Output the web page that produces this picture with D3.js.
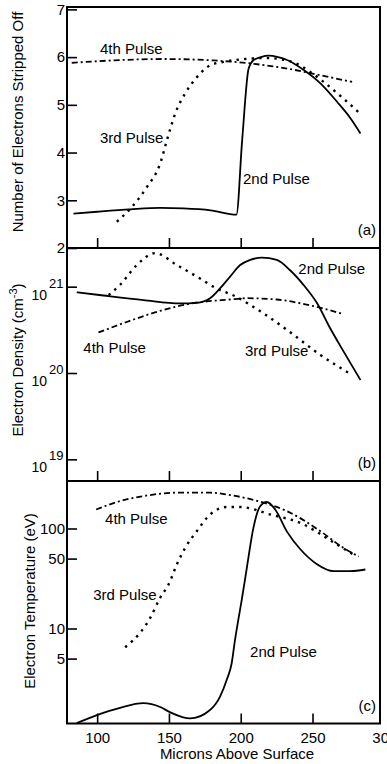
<!DOCTYPE html>
<html lang="en">
<head>
<meta charset="UTF-8" />
<title>Stripping, density and temperature vs height</title>
<script src="https://d3js.org/d3.v7.min.js"></script>
<style>
    body { margin: 0; background: #fff; }
    svg { display: block; font-family: "Liberation Sans", Arial, Helvetica, sans-serif; }
    .frame { fill: none; stroke: #000; stroke-width: 2; }
    .tick line { stroke: #000; stroke-width: 1.6; }
    .curve { fill: none; stroke: #000; }
    .p2 { stroke-width: 1.8; }
    .p3 { stroke-width: 2.4; stroke-dasharray: 2.4 5.2; }
    .p4 { stroke-width: 1.8; stroke-dasharray: 6 3 2 3; }
    text { fill: #000; }
</style>
</head>
<body>
<script>
    // microns above surface
    const xTicks = [100, 150, 200, 250, 300];

    // (a) number of electrons stripped off
    const stripX2 = [83.5, 100, 123, 144, 160, 179, 197, 201, 205.5, 209, 214, 219.5, 226, 232.3, 243.9, 255.5, 267.2, 276.4, 283.4];
    const strip2 = [2.72, 2.76, 2.81, 2.84, 2.83, 2.79, 2.70, 4.26, 5.76, 5.94, 6.00, 6.03, 6.00, 5.94, 5.73, 5.45, 5.06, 4.72, 4.40];
    const stripX3 = [113.7, 124.2, 134.7, 143.9, 148.6, 154.4, 161.3, 169.5, 178.8, 188.1, 203, 218, 235.7, 248.4, 257.7, 271.6, 284.5];
    const strip3 = [2.55, 2.86, 3.28, 3.77, 4.26, 4.82, 5.24, 5.58, 5.83, 5.90, 5.96, 5.98, 5.90, 5.69, 5.48, 5.13, 4.78];
    const stripX4 = [82.3, 110, 147, 181, 209, 232.3, 255.5, 277.6];
    const strip4 = [5.88, 5.93, 5.96, 5.93, 5.86, 5.76, 5.62, 5.48];
    const stripTicks = [2, 3, 4, 5, 6, 7];

    // (b) electron density, cm^-3
    const densX2 = [85.8, 104.4, 132.3, 157.8, 169.4, 178.7, 185.7, 192.6, 199.6, 206.5, 214.7, 225.1, 234.4, 243.7, 253, 262.3, 271.6, 283.4];
    const dens2 = [8.6e20, 7.9e20, 7.0e20, 6.4e20, 6.5e20, 7.35e20, 9.6e20, 1.31e21, 1.78e21, 2.04e21, 2.17e21, 2.04e21, 1.55e21, 1.05e21, 6.5e20, 3.3e20, 1.78e20, 8.3e19];
    const densX3 = [108, 116, 127.6, 140.4, 155.5, 169.4, 183.3, 195, 215.9, 232.2, 255.5, 277.6];
    const dens3 = [8.0e20, 1.05e21, 1.78e21, 2.45e21, 1.78e21, 1.31e21, 9.5e20, 7.9e20, 4.9e20, 3.16e20, 1.62e20, 9.5e19];
    const densX4 = [100.9, 120.6, 143.9, 167.1, 192.6, 204.2, 225.1, 246, 271.6];
    const dens4 = [2.95e20, 3.9e20, 5.25e20, 6.45e20, 7.1e20, 7.35e20, 7.1e20, 6.2e20, 4.8e20];
    const densTicks = [1e19, 1e20, 1e21];
    const densExp = ['19', '20', '21'];

    // (c) electron temperature, eV
    const tempX2 = [85.8, 99.8, 115.9, 132.2, 143.9, 151, 164.7, 178.6, 185.6, 190.2, 193.7, 196, 198.3, 200.7, 204.2, 208.8, 213.4, 218.1, 224, 232.2, 241.5, 253.1, 264.7, 276.3, 286.8];
    const temp2 = [1.13, 1.36, 1.61, 1.79, 1.64, 1.45, 1.26, 1.53, 2.08, 3.05, 4.49, 7.67, 12.2, 19.3, 40, 101, 166, 184, 155, 93, 62, 44, 37.5, 37.5, 38.9];
    const tempX3 = [119.5, 130, 137, 143.9, 149.7, 155.5, 161.3, 169.4, 178.7, 190.3, 199.7, 220.6, 243.8, 257.7, 269.3, 280.9];
    const temp3 = [6.5, 9.1, 12.8, 20.3, 27.5, 43.7, 64, 94, 138, 164, 164, 138, 110, 84, 66, 52.5];
    const tempX4 = [99.3, 116, 132.3, 155.5, 178.7, 192.6, 215.9, 232.2, 255.5, 271.5, 282.2];
    const temp4 = [155, 188, 211, 228, 228, 216, 181, 149, 94, 64, 52.5];
    const tempTicks = [5, 10, 50, 100];

    const width = 387, height = 764;
    const left = 67, right = 380;

    const svg = d3.select('body').append('svg').attr('width', width).attr('height', height);

    const x = d3.scaleLinear().domain([79, 297]).range([left, right]);

    const panels = [
        {
            top: 7, bottom: 248, tag: '(a)',
            y: d3.scaleLinear().domain([2, 7.05]),
            ticks: stripTicks, fmt: d3.format('d'),
            series: [[stripX2, strip2, 'p2'], [stripX3, strip3, 'p3'], [stripX4, strip4, 'p4']],
            notes: [['4th Pulse', 102, 6.17], ['3rd Pulse', 102, 4.32], ['2nd Pulse', 201.6, 3.46]]
        },
        {
            top: 248, bottom: 481, tag: '(b)',
            y: d3.scaleLog().domain([Math.pow(10, 18.749), Math.pow(10, 21.448)]),
            ticks: densTicks, fmt: () => '',
            series: [[densX2, dens2, 'p2'], [densX3, dens3, 'p3'], [densX4, dens4, 'p4']],
            notes: [['2nd Pulse', 240.1, 1.63e21], ['4th Pulse', 90.4, 1.96e20], ['3rd Pulse', 203, 1.8e20]]
        },
        {
            top: 481, bottom: 723.5, tag: '(c)',
            y: d3.scaleLog().domain([Math.pow(10, 0.05), Math.pow(10, 2.475)]),
            ticks: tempTicks, fmt: d3.format('d'),
            series: [[tempX2, temp2, 'p2'], [tempX3, temp3, 'p3'], [tempX4, temp4, 'p4']],
            notes: [['4th Pulse', 105.5, 126], ['3rd Pulse', 97.3, 21.9], ['2nd Pulse', 206.5, 5.94]]
        }
    ];

    panels.forEach((p, i) => {
        const y = p.y.range([p.bottom, p.top]);
        const g = svg.append('g');

        // curves
        p.series.forEach(([xs, vs, cls]) => {
            const line = d3.line()
                .x(d => x(d[0]))
                .y(d => y(d[1]))
                .curve(d3.curveMonotoneX);
            g.append('path').attr('class', 'curve ' + cls).attr('d', line(d3.zip(xs, vs)));
        });

        // left ticks, pointing inside
        const ya = g.append('g')
            .attr('transform', `translate(${left},0)`)
            .call(d3.axisLeft(y).tickValues(p.ticks).tickSize(-10).tickPadding(2).tickFormat(p.fmt));
        ya.select('.domain').remove();
        ya.attr('font-family', null).attr('font-size', 15);

        // powers of ten for density
        if (i === 1) {
            p.ticks.forEach((t, k) => {
                g.append('text').attr('x', 47).attr('y', y(t) + 13)
                    .attr('text-anchor', 'end').attr('font-size', 14).text('10');
                g.append('text').attr('x', 49).attr('y', y(t) + 1)
                    .attr('font-size', 13).text(densExp[k]);
            });
        }

        // bottom ticks, pointing up
        const xa = g.append('g')
            .attr('transform', `translate(0,${p.bottom})`)
            .call(d3.axisBottom(x).tickValues(i === 2 ? xTicks : xTicks.slice(0, 4))
                .tickSize(-10).tickPadding(9).tickFormat(i === 2 ? d3.format('d') : () => ''));
        xa.select('.domain').remove();
        xa.attr('font-family', null).attr('font-size', 15);
        xa.selectAll('.tick').filter(d => d === 300).select('line').remove();

        g.append('rect').attr('class', 'frame')
            .attr('x', left).attr('y', p.top)
            .attr('width', right - left).attr('height', p.bottom - p.top);

        // curve names
        p.notes.forEach(([txt, nx, ny]) => {
            g.append('text').attr('x', x(nx)).attr('y', y(ny)).attr('dy', '0.36em')
                .attr('font-size', 15).text(txt);
        });

        g.append('text').attr('x', 376).attr('y', p.bottom - 13)
            .attr('text-anchor', 'end').attr('font-size', 15).text(p.tag);
    });

    // axis titles
    svg.append('text').attr('transform', 'translate(23,122) rotate(-90)')
        .attr('text-anchor', 'middle').attr('font-size', 15)
        .text('Number of Electrons Stripped Off');

    const dt = svg.append('text').attr('transform', 'translate(23,360) rotate(-90)')
        .attr('text-anchor', 'middle').attr('font-size', 15);
    dt.append('tspan').text('Electron Density (cm');
    dt.append('tspan').attr('dy', -6).attr('font-size', 11).text('-3');
    dt.append('tspan').attr('dy', 6).text(')');

    svg.append('text').attr('transform', 'translate(35,601) rotate(-90)')
        .attr('text-anchor', 'middle').attr('font-size', 15)
        .text('Electron Temperature (eV)');

    svg.append('text').attr('x', 237).attr('y', 759)
        .attr('text-anchor', 'middle').attr('font-size', 15)
        .text('Microns Above Surface');
</script>
</body>
</html>
